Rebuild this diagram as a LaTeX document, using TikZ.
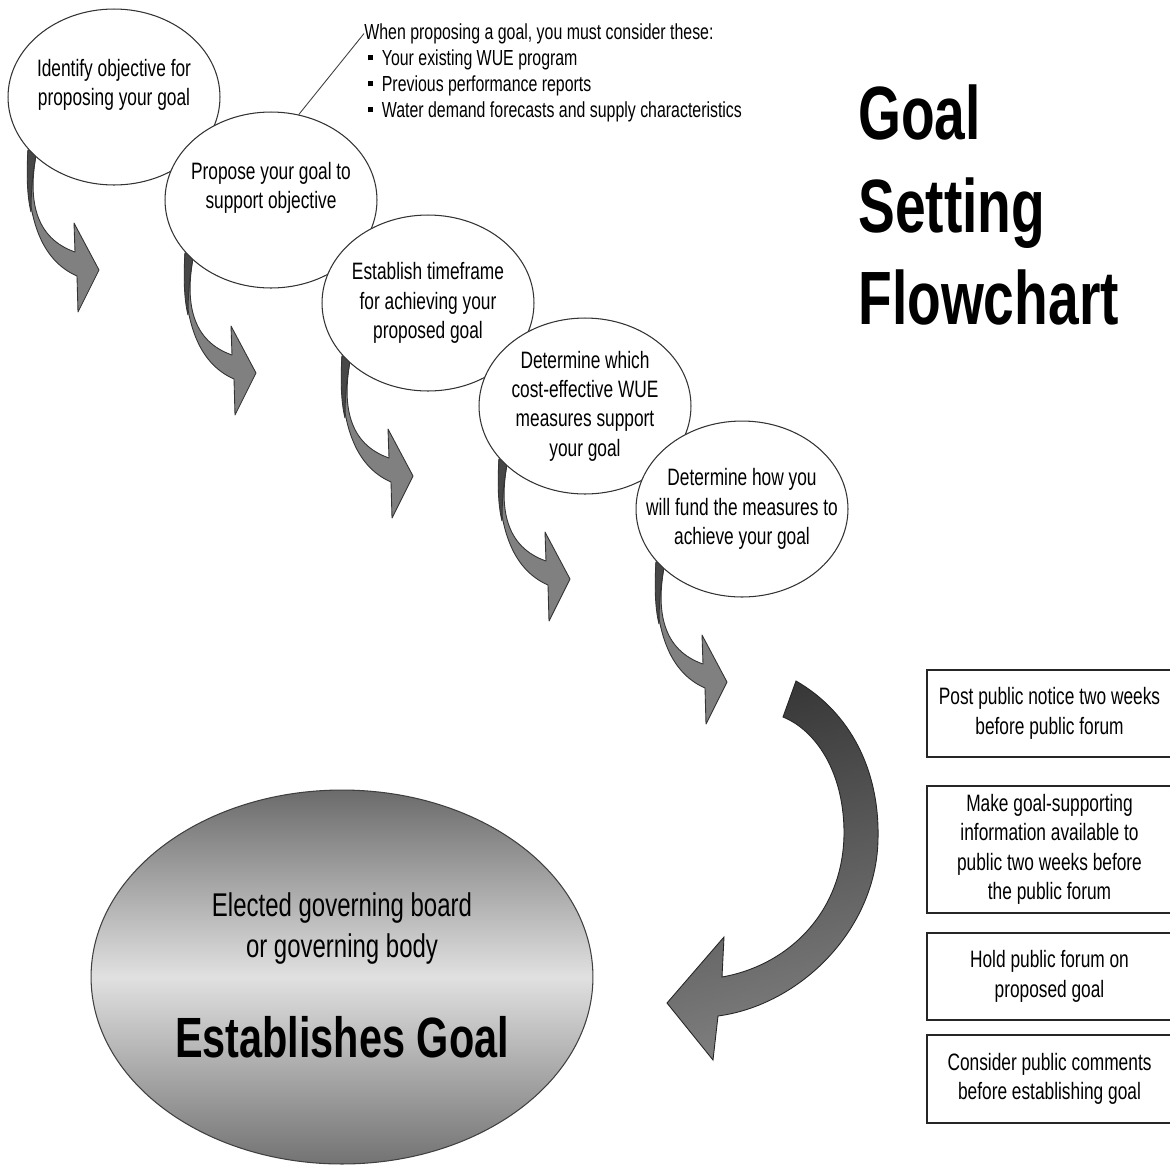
\documentclass[tikz,border=0pt]{standalone}
\usepackage{fontspec}
\setmainfont[FakeStretch=0.73]{Liberation Sans}
\usetikzlibrary{shapes.geometric}
\tikzset{%
	goal step/.style={
		ellipse,
		draw=black!80,
		fill=white,
		line width=0.6pt,
		minimum width=4.24cm,
		minimum height=3.52cm,
		inner sep=0pt
	},
	step text/.style={
		align=center,
		inner sep=0pt,
		font=\fontsize{13.5}{16.7}\selectfont
	},
	forum box/.style={
		rectangle,
		draw=black!85,
		line width=0.7pt,
		minimum width=4.9cm,
		align=center,
		font=\fontsize{13.5}{16.7}\selectfont
	},
	bent arrow/.style={
		fill=black!50,
		draw=black!80,
		line width=0.5pt,
		line join=round
	},
}

\begin{document}
\begin{tikzpicture}[x=0.02cm, y=-0.02cm]
	% Fix the page to the size of the original picture
	\useasboundingbox[fill=white] (0,0) rectangle (1170,1164);
	% Define the shift from one step to the next
	\newcommand{\stepX}{157}
	\newcommand{\stepY}{103}
	
	% Curved arrows below the steps
	\foreach \i in {0,...,4} {
		\begin{scope}[shift={(\i*\stepX,\i*\stepY)}]
			\filldraw[bent arrow] (37,150) .. controls (27,200) and (35,238) .. (75,252) -- (74,223) -- (99,270) -- (78,312) -- (77,276) .. controls (45,262) and (25,225) .. (28,150) -- cycle;
			\filldraw[bent arrow, fill=black!72] (28,150) .. controls (26,180) and (28,200) .. (31,212) .. controls (31,195) and (32,175) .. (37,150) -- cycle;
		\end{scope}
	}
	
	% Steps towards the proposed goal
	\foreach \txt/\dy [count=\i] in {
		{Identify objective for\\proposing your goal}/7,
		{Propose your goal to\\support objective}/7,
		{Establish timeframe\\for achieving your\\proposed goal}/0,
		{Determine which\\cost-effective WUE\\measures support\\your goal}/0,
		{Determine how you\\will fund the measures to\\achieve your goal}/0} {
		\node[goal step] (e\i) at (\i*\stepX-43, \i*\stepY-6) {};
		\node[step text] (t\i) at ([yshift=\dy pt]e\i.center) {\txt};
	}
	
	% Note on what to consider
	\node[anchor=north west, align=left, inner sep=0pt, font=\fontsize{12.4}{14.8}\selectfont] (note) at (364,23) {When proposing a goal, you must consider these:\\
		\hspace{2pt}\rule[0.22em]{0.24em}{0.24em}\hspace{5pt}Your existing WUE program\\
		\hspace{2pt}\rule[0.22em]{0.24em}{0.24em}\hspace{5pt}Previous performance reports\\
		\hspace{2pt}\rule[0.22em]{0.24em}{0.24em}\hspace{5pt}Water demand forecasts and supply characteristics};
	\draw[black!75, line width=0.5pt] (e2.72) -- ([yshift=-6pt]note.north west);
	
	% Title
	\node[anchor=north west, align=left, inner sep=0pt, font=\fontsize{43}{52.9}\selectfont\bfseries] (title) at (858,84) {Goal\\Setting\\Flowchart};
	
	% Steps of the public process
	\node[forum box, minimum height=1.74cm] (b1) at (1049.5,713.5) {Post public notice two weeks\\before public forum};
	\node[forum box, minimum height=2.54cm] (b2) at (1049.5,849.5) {Make goal-supporting\\information available to\\public two weeks before\\the public forum};
	\node[forum box, minimum height=1.74cm] (b3) at (1049.5,976.5) {Hold public forum on\\proposed goal};
	\node[forum box, minimum height=1.76cm] (b4) at (1049.5,1079) {Consider public comments\\before establishing goal};
	
	% The board that sets the goal
	\node[ellipse, draw=black!75, line width=0.6pt, top color=black!58, bottom color=black!55, middle color=black!12, minimum width=10.04cm, minimum height=7.48cm] (board) at (342,977) {};
	\node[anchor=north, align=center, inner sep=0pt, font=\fontsize{18.7}{23.3}\selectfont] (elected) at (342,892) {Elected governing board\\or governing body};
	\node[anchor=base, inner sep=0pt, font=\fontsize{32.3}{38}\selectfont\bfseries] (establish) at (342,1057) {Establishes Goal};
	
	% Arrow from the last step down to the board
	\draw[draw=black!85, line width=0.5pt, top color=black!78, bottom color=black!50, shading angle=15]
		(783,717) -- (796,681) .. controls (850,712) and (880,770) .. (878,840)
		.. controls (876,930) and (800,1005) .. (718,1016) -- (713,1060) -- (667,1003) -- (724,937) -- (722,977)
		.. controls (790,965) and (845,910) .. (844,830) .. controls (843,770) and (815,730) .. (783,717) -- cycle;
\end{tikzpicture}
\end{document}
